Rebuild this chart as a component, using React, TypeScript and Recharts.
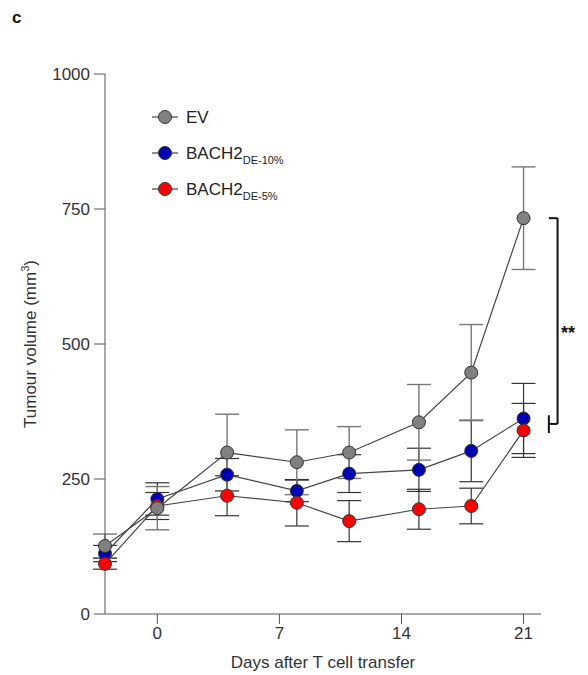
import {
  ComposedChart,
  Line,
  ErrorBar,
  XAxis,
  YAxis,
  ReferenceLine,
  ReferenceDot,
} from "recharts";

const days = [-3, 0, 4, 8, 11, 15, 18, 21];

const evMean = [126, 196, 299, 281, 299, 355, 447, 733];
const evErr = [22, 40, 71, 60, 48, 70, 89, 95];

const bach10Mean = [112, 213, 258, 228, 260, 267, 302, 362];
const bach10Err = [15, 30, 30, 20, 35, 40, 57, 65];

const bach5Mean = [93, 200, 219, 206, 172, 194, 200, 340];
const bach5Err = [10, 25, 37, 43, 38, 37, 33, 50];

const xTicks = [0, 7, 14, 21];
const yTicks = [0, 250, 500, 750, 1000];

const FONT = "'Liberation Sans', Arial, sans-serif";

const data = days.map((day, i) => ({
  day,
  ev: evMean[i],
  evErr: evErr[i],
  b10: bach10Mean[i],
  b10Err: bach10Err[i],
  b5: bach5Mean[i],
  b5Err: bach5Err[i],
}));

const series = [
  { key: "ev", name: "EV", sub: "", fill: "#808080" },
  { key: "b10", name: "BACH2", sub: "DE-10%", fill: "#0000b4" },
  { key: "b5", name: "BACH2", sub: "DE-5%", fill: "#ff0000" },
];

function Marker(props: any) {
  const { cx, cy, fill } = props;
  if (cx == null || cy == null) return null;
  return <circle cx={cx} cy={cy} r={6.5} fill={fill} stroke="#333" strokeWidth={1} />;
}

function LegendBox() {
  return (
    <svg width={180} height={100} style={{ overflow: "visible" }}>
      {series.map((s, i) => {
        const y = 12 + i * 36;
        return (
          <g key={s.key}>
            <line x1={4} x2={30} y1={y} y2={y} stroke="#444" strokeWidth={1.2} />
            <circle cx={17} cy={y} r={6.5} fill={s.fill} stroke="#333" strokeWidth={1} />
            <text x={38} y={y + 6} fontSize={17} fill="#222" fontFamily={FONT}>
              {s.name}
              {s.sub && (
                <tspan fontSize={11} dy={5}>
                  {s.sub}
                </tspan>
              )}
            </text>
          </g>
        );
      })}
    </svg>
  );
}

function YLabel(props: any) {
  const { viewBox } = props;
  const cy = viewBox.y + viewBox.height / 2;
  const cx = 36;
  return (
    <text
      x={cx}
      y={cy}
      transform={`rotate(-90, ${cx}, ${cy})`}
      textAnchor="middle"
      fontSize={17}
      fill="#333"
      fontFamily={FONT}
    >
      Tumour volume  (mm
      <tspan fontSize={11} dy={-7}>
        3
      </tspan>
      <tspan dy={7}>)</tspan>
    </text>
  );
}

export default function App() {
  return (
    <div style={{ position: "absolute", left: 0, top: 0, width: 588, height: 675, background: "#fff" }}>
      <div
        style={{
          position: "absolute",
          left: 12,
          top: 8,
          fontFamily: FONT,
          fontWeight: "bold",
          fontSize: 17,
          color: "#111",
        }}
      >
        c
      </div>
      <div style={{ position: "absolute", left: 148, top: 105, zIndex: 2 }}>
        <LegendBox />
      </div>
      <ComposedChart
        width={588}
        height={675}
        data={data}
        margin={{ top: 74, right: 47, bottom: 31, left: 45 }}
      >
        <XAxis
          dataKey="day"
          type="number"
          domain={[-3, 22]}
          ticks={xTicks}
          tickSize={10}
          tickMargin={3}
          height={30}
          stroke="#555"
          tick={{ fill: "#333", fontSize: 17, fontFamily: FONT }}
          label={{
            value: "Days after T cell transfer",
            position: "insideBottom",
            offset: -24,
            fill: "#333",
            fontSize: 17,
            fontFamily: FONT,
          }}
        />
        <YAxis
          type="number"
          domain={[0, 1000]}
          ticks={yTicks}
          width={60}
          tickSize={11}
          tickMargin={4}
          stroke="#555"
          tick={{ fill: "#333", fontSize: 17, fontFamily: FONT }}
          label={<YLabel />}
        />
        <Line
          dataKey="b10"
          name="BACH2 DE-10%"
          stroke="#444"
          strokeWidth={1.2}
          fill={series[1].fill}
          dot={<Marker fill={series[1].fill} />}
          isAnimationActive={false}
        >
          <ErrorBar dataKey="b10Err" width={12} stroke="#333" strokeWidth={1.2} direction="y" />
        </Line>
        <Line
          dataKey="b5"
          name="BACH2 DE-5%"
          stroke="#444"
          strokeWidth={1.2}
          fill={series[2].fill}
          dot={<Marker fill={series[2].fill} />}
          isAnimationActive={false}
        >
          <ErrorBar dataKey="b5Err" width={12} stroke="#333" strokeWidth={1.2} direction="y" />
        </Line>
        <Line
          dataKey="ev"
          name="EV"
          stroke="#444"
          strokeWidth={1.2}
          fill={series[0].fill}
          dot={<Marker fill={series[0].fill} />}
          isAnimationActive={false}
        >
          <ErrorBar dataKey="evErr" width={12} stroke="#777" strokeWidth={1.4} direction="y" />
        </Line>
        {/* significance bracket */}
        <ReferenceLine
          segment={[{ x: 22.95, y: 733 }, { x: 22.95, y: 352 }]}
          stroke="#111"
          strokeWidth={2}
          ifOverflow="visible"
        />
        <ReferenceLine
          segment={[{ x: 22.45, y: 733 }, { x: 22.95, y: 733 }]}
          stroke="#111"
          strokeWidth={2}
          ifOverflow="visible"
        />
        <ReferenceLine
          segment={[{ x: 22.45, y: 352 }, { x: 22.95, y: 352 }]}
          stroke="#111"
          strokeWidth={2}
          ifOverflow="visible"
        />
        <ReferenceLine
          segment={[{ x: 22.45, y: 368 }, { x: 22.45, y: 335 }]}
          stroke="#111"
          strokeWidth={2}
          ifOverflow="visible"
        />
        <ReferenceDot
          x={23.55}
          y={522}
          r={0}
          fill="none"
          stroke="none"
          ifOverflow="visible"
          label={{ value: "**", position: "center", fill: "#111", fontSize: 18, fontWeight: "bold", fontFamily: FONT }}
        />
      </ComposedChart>
    </div>
  );
}
